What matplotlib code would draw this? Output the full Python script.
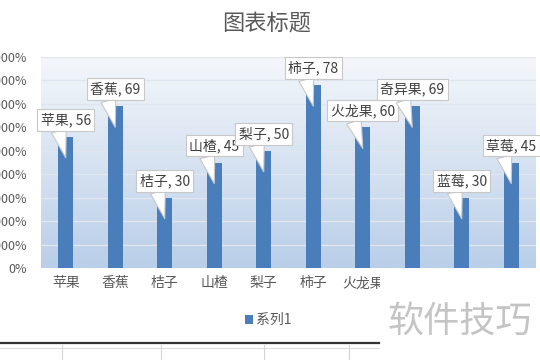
import matplotlib
matplotlib.use("Agg")
import matplotlib.pyplot as plt
import numpy as np
from matplotlib.patches import Rectangle
from matplotlib.lines import Line2D

plt.rcParams['font.family'] = ['Noto Sans CJK SC', 'DejaVu Sans']

categories = ['苹果', '香蕉', '桔子', '山楂', '梨子', '柿子', '火龙果', '奇异果', '蓝莓', '草莓']
values = [56, 69, 30, 45, 50, 78, 60, 69, 30, 45]
y_ticks = [0, 10, 20, 30, 40, 50, 60, 70, 80, 90]
y_tick_labels = [f"{v * 100}%" if v else "0%" for v in y_ticks]
series_name = '系列1'
title = '图表标题'
watermark = '软件技巧'

W, H = 540, 360
fig = plt.figure(figsize=(W / 100, H / 100), dpi=100)
fig.patch.set_facecolor('white')

def fx(px):
    return px / W

def fy(py):
    return 1 - py / H

left, right, top, bottom = 41, 536, 57, 268
ax = fig.add_axes([fx(left), fy(bottom), fx(right - left), (bottom - top) / H])

# gradient background
grad = np.linspace(0, 1, 256).reshape(-1, 1)
top_c = np.array([0xf4, 0xf7, 0xfb]) / 255
bot_c = np.array([0xb9, 0xce, 0xe8]) / 255
img = (bot_c[None, None, :] * (1 - grad[:, :, None]) + top_c[None, None, :] * grad[:, :, None])
ax.imshow(img, extent=[0, 1, 0, 1], transform=ax.transAxes, origin='lower',
          aspect='auto', zorder=0)

ax.set_xlim(-0.5, len(categories) - 0.5)
ax.set_ylim(0, 90)
for yv in y_ticks[1:]:
    ax.axhline(yv, color='#dfe6ef', lw=1.0, zorder=1)

bar_color = '#4a7ebb'
x = np.arange(len(categories))
bars = ax.bar(x, values, width=0.3, color=bar_color, zorder=2, label=series_name)

ax.set_yticks(y_ticks)
ax.set_yticklabels(y_tick_labels, fontsize=9, color='#595959')
ax.set_xticks(x)
ax.set_xticklabels(categories, fontsize=10, color='#595959')
ax.tick_params(axis='both', length=0)
ax.tick_params(axis='y', pad=10)
ax.tick_params(axis='x', pad=6)
for s in ax.spines.values():
    s.set_visible(False)

# data label callouts
for i, v in enumerate(values):
    ax.annotate(f"{categories[i]}, {v}", xy=(i, v - 9.0), xytext=(0, 38),
                textcoords='offset pixels', ha='center', va='center',
                fontsize=10, color='#404040', zorder=5,
                bbox=dict(boxstyle='square,pad=0.25', fc='white', ec='#c8c8c8', lw=0.8),
                arrowprops=dict(arrowstyle='wedge,tail_width=1.1', fc='white',
                                ec='#c8c8c8', lw=0.8, shrinkA=0, shrinkB=0,
                                relpos=(0.32, 0.3)))

fig.text(fx(267), fy(23), title, ha='center', va='center', fontsize=16, color='#595959')

leg = fig.legend(handles=[bars], labels=[series_name], loc='center',
                 bbox_to_anchor=(fx(268), fy(320)), frameon=False, fontsize=10,
                 handlelength=0.6, handleheight=0.6, handletextpad=0.2,
                 labelcolor='#595959')

# spreadsheet remnants below chart
fig.add_artist(Rectangle((fx(380), 0), 1 - fx(380), fy(272), transform=fig.transFigure,
                         fc='white', ec='none', zorder=10))
fig.add_artist(Line2D([0, fx(379)], [fy(343), fy(343)], transform=fig.transFigure,
                      color='#333333', lw=1.6, zorder=11))
fig.add_artist(Line2D([0, fx(379)], [fy(347.5), fy(347.5)], transform=fig.transFigure,
                      color='#dddddd', lw=0.8, zorder=11))
for vx in [62, 161, 264, 349]:
    fig.add_artist(Line2D([fx(vx), fx(vx)], [fy(345), 0], transform=fig.transFigure,
                          color='#d4d4d4', lw=0.8, zorder=11))
fig.text(fx(460), fy(322), watermark, ha='center', va='center', fontsize=26,
         color='#c4c4c4', zorder=12)

fig.savefig('out.png', dpi=100)
